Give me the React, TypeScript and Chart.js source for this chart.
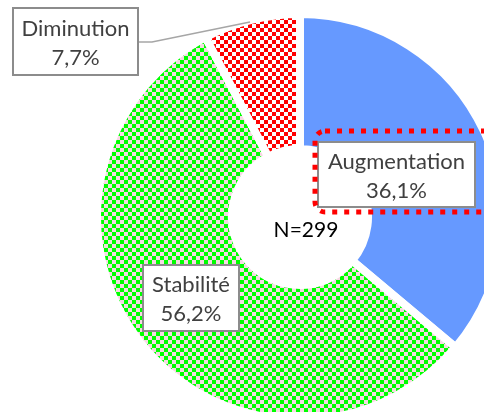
import React, { useEffect, useRef } from 'react';
import { Chart, registerables } from 'chart.js';

Chart.register(...registerables);

const categories = ['Augmentation', 'Stabilité', 'Diminution'];
const percentages = [36.1, 56.2, 7.7];
const valueLabels = ['36,1%', '56,2%', '7,7%'];
const totalLabel = 'N=299';

const W = 484;
const H = 412;
const FONT = 'Lato, "Open Sans", sans-serif';

// label boxes (layout only): [x, y, w, h]
const labelBoxes: Record<string, [number, number, number, number]> = {
  Augmentation: [318, 142, 157, 65],
  'Stabilité': [143, 265, 96, 66],
  Diminution: [13, 8, 125, 67],
};

function makeChecker(ctx: CanvasRenderingContext2D, bg: string, fg: string, cell: number) {
  const cv = document.createElement('canvas');
  cv.width = cell * 2;
  cv.height = cell * 2;
  const g = cv.getContext('2d')!;
  g.fillStyle = bg;
  g.fillRect(0, 0, cell * 2, cell * 2);
  g.fillStyle = fg;
  g.fillRect(0, 0, cell, cell);
  g.fillRect(cell, cell, cell, cell);
  return ctx.createPattern(cv, 'repeat')!;
}

const labelPlugin = {
  id: 'labelPlugin',
  afterDraw(chart: any) {
    const ctx: CanvasRenderingContext2D = chart.ctx;
    const meta = chart.getDatasetMeta(0);
    const arc0 = meta.data[0];
    const cx = arc0.x;
    const cy = arc0.y;
    ctx.save();

    // leader line for Diminution
    ctx.strokeStyle = '#a6a6a6';
    ctx.lineWidth = 1.5;
    ctx.beginPath();
    ctx.moveTo(138, 42);
    ctx.lineTo(152, 42);
    ctx.lineTo(250, 22);
    ctx.stroke();

    categories.forEach((cat, i) => {
      const [x, y, w, h] = labelBoxes[cat];
      ctx.fillStyle = '#ffffff';
      ctx.fillRect(x, y, w, h);
      ctx.strokeStyle = '#8c8c8c';
      ctx.lineWidth = 2;
      ctx.strokeRect(x, y, w, h);
      ctx.fillStyle = '#404040';
      ctx.font = `22px ${FONT}`;
      ctx.textAlign = 'center';
      ctx.textBaseline = 'alphabetic';
      const mx = x + w / 2;
      ctx.fillText(cat, mx, y + h / 2 - 6);
      ctx.fillText(valueLabels[i], mx, y + h / 2 + 23);
    });

    // red dotted highlight around Augmentation
    ctx.strokeStyle = '#ff0000';
    ctx.lineWidth = 5;
    ctx.setLineDash([5, 7]);
    ctx.beginPath();
    (ctx as any).roundRect(315, 131, 190, 81, 10);
    ctx.stroke();
    ctx.setLineDash([]);

    // center text
    ctx.fillStyle = '#000000';
    ctx.font = `21px ${FONT}`;
    ctx.textAlign = 'center';
    ctx.textBaseline = 'alphabetic';
    ctx.fillText(totalLabel, cx + 6, cy + 20);
    ctx.restore();
  },
};

export default function App() {
  const ref = useRef<HTMLCanvasElement>(null);
  useEffect(() => {
    const canvas = ref.current!;
    const ctx = canvas.getContext('2d')!;
    const green = makeChecker(ctx, '#f7d9e3', '#00ff00', 4);
    const red = makeChecker(ctx, '#ffffff', '#ff0000', 4);
    const chart = new Chart(canvas, {
      type: 'doughnut',
      data: {
        labels: categories,
        datasets: [
          {
            data: percentages,
            backgroundColor: ['#6699ff', green, red],
            borderColor: '#ffffff',
            borderWidth: 8,
            borderJoinStyle: 'miter',
            clip: false,
          } as any,
        ],
      },
      options: {
        responsive: false,
        animation: false,
        radius: 203,
        cutout: '33.5%',
        layout: { padding: { left: 116, right: 0, top: 22, bottom: 0 } },
        events: [],
        plugins: { legend: { display: false }, tooltip: { enabled: false } },
      } as any,
      plugins: [labelPlugin],
    });
    return () => chart.destroy();
  }, []);
  return (
    <div style={{ position: 'absolute', left: 0, top: 0, width: W, height: H, background: '#fff' }}>
      <canvas ref={ref} width={W} height={H} style={{ display: 'block', width: W, height: H }} />
    </div>
  );
}
